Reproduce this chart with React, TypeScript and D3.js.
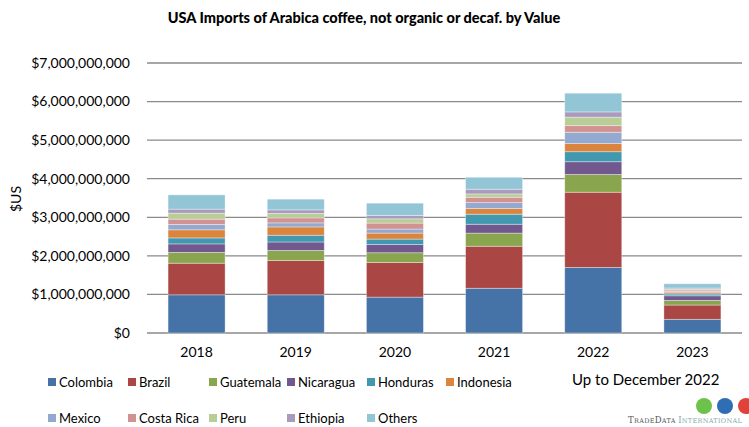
import React from "react";
import * as d3 from "d3";

const years = ["2018", "2019", "2020", "2021", "2022", "2023"];
const countries = ["Colombia", "Brazil", "Guatemala", "Nicaragua", "Honduras", "Indonesia", "Mexico", "Costa Rica", "Peru", "Ethiopia", "Others"];
const colors = ["#4572A7", "#AA4643", "#89A54E", "#71588F", "#4198AF", "#DB843D", "#93A9CF", "#D19392", "#B9CD96", "#A99BBD", "#92C5D6"];

// values in billions of US$
const colombia = [0.99, 0.99, 0.93, 1.16, 1.70, 0.355];
const brazil = [0.82, 0.89, 0.90, 1.09, 1.95, 0.37];
const guatemala = [0.28, 0.26, 0.25, 0.34, 0.46, 0.12];
const nicaragua = [0.22, 0.22, 0.215, 0.23, 0.33, 0.12];
const honduras = [0.155, 0.175, 0.14, 0.26, 0.26, 0.045];
const indonesia = [0.21, 0.215, 0.155, 0.145, 0.21, 0.034];
const mexico = [0.14, 0.105, 0.105, 0.155, 0.295, 0.036];
const costaRica = [0.137, 0.13, 0.155, 0.14, 0.17, 0.034];
const peru = [0.155, 0.115, 0.11, 0.086, 0.22, 0.026];
const ethiopia = [0.104, 0.093, 0.086, 0.122, 0.137, 0.026];
const others = [0.37, 0.277, 0.32, 0.31, 0.485, 0.11];

const series = [colombia, brazil, guatemala, nicaragua, honduras, indonesia, mexico, costaRica, peru, ethiopia, others];
const yTicks = [0, 1e9, 2e9, 3e9, 4e9, 5e9, 6e9, 7e9];

const W = 749, H = 427;
const m = { left: 147, right: 742, top: 63, bottom: 333 };
const FONT = "Lato, 'Open Sans', sans-serif";

export default function App() {
  const rows = years.map((y, i) => {
    const r: any = { year: y };
    countries.forEach((c, j) => (r[c] = series[j][i] * 1e9));
    return r;
  });
  const stacked = d3.stack().keys(countries)(rows);
  const x = d3.scaleBand().domain(years).range([m.left, m.right]).paddingInner(0.425).paddingOuter(0.2125);
  const y = d3.scaleLinear().domain([0, 7e9]).range([m.bottom, m.top]);
  const fmt = (v: number) => "$" + d3.format(",")(v);

  const legendRow1 = [[48, 382], [128, 382], [209, 382], [287, 382], [367, 382], [446, 382]];
  const legendRow2 = [[48, 418], [128, 418], [209, 418], [287, 418], [367, 418]];
  const legendPos = [...legendRow1, ...legendRow2];

  return (
    <svg width={W} height={H} style={{ position: "absolute", left: 0, top: 0, background: "#fff" }} fontFamily={FONT}>
      <rect width={W} height={H} fill="#fff" />
      <text x={364} y={23} textAnchor="middle" fontWeight="900" fontSize={14.5} fill="#000">
        USA Imports of Arabica coffee, not organic or decaf. by Value
      </text>
      {yTicks.map((t) => (
        <g key={t}>
          <line x1={m.left} x2={m.right} y1={y(t)} y2={y(t)} stroke="#8a8a8a" strokeWidth={1.3} />
          <text x={130} y={y(t)} dy="0.35em" textAnchor="end" fontSize={14} fill="#000">
            {fmt(t)}
          </text>
        </g>
      ))}
      <text transform={`translate(16,${199}) rotate(-90)`} textAnchor="middle" dy="0.35em" fontSize={14} fill="#000">
        $US
      </text>
      {stacked.map((s, j) => (
        <g key={countries[j]} fill={colors[j]}>
          {s.map((d: any, i: number) => (
            <rect
              key={i}
              x={x(years[i])}
              width={x.bandwidth()}
              y={y(d[1])}
              height={y(d[0]) - y(d[1])}
              stroke="#ffffff"
              strokeOpacity={0.45}
              strokeWidth={0.8}
            />
          ))}
        </g>
      ))}
      {years.map((yr) => (
        <text key={yr} x={(x(yr) as number) + x.bandwidth() / 2} y={352} dy="0.35em" textAnchor="middle" fontSize={14} fill="#000">
          {yr}
        </text>
      ))}
      {countries.map((c, j) => (
        <g key={c}>
          <rect x={legendPos[j][0]} y={legendPos[j][1] - 4} width={8} height={8} fill={colors[j]} />
          <text x={legendPos[j][0] + 11} y={legendPos[j][1]} dy="0.35em" fontSize={13} fill="#000">
            {c}
          </text>
        </g>
      ))}
      <text x={572} y={380} dy="0.35em" fontSize={15} fill="#000">
        Up to December 2022
      </text>
      <g>
        <circle cx={704} cy={406} r={8} fill="#6cc24a" />
        <circle cx={725} cy={406} r={8} fill="#2f6db5" />
        <circle cx={746} cy={406} r={8} fill="#e0423a" />
        <text x={628} y={423} fontFamily="'DejaVu Serif', 'Liberation Serif', serif" fontSize={8.5} fill="#555" letterSpacing={0.3}>
          <tspan>T</tspan>
          <tspan fontSize={6.5}>RADE</tspan>
          <tspan>D</tspan>
          <tspan fontSize={6.5}>ATA </tspan>
          <tspan fill="#8aa">I</tspan>
          <tspan fontSize={6.5} fill="#8aa">NTERNATIONAL</tspan>
        </text>
      </g>
    </svg>
  );
}
